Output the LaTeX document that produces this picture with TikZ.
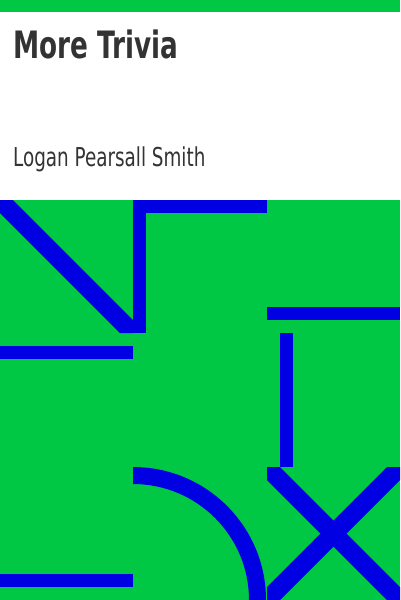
\documentclass[tikz,border=0pt]{standalone}
\usepackage{fontspec}
\setmainfont{DejaVu Sans Condensed}
\usepackage{xcolor}
\definecolor{covergreen}{RGB}{0,200,68}
\definecolor{coverblue}{RGB}{0,0,226}
\definecolor{covertext}{RGB}{51,51,51}
\tikzset{
	band/.style={fill=coverblue, draw=none},
	label/.style={anchor=base west, inner sep=0pt, text=covertext}
}
\begin{document}
\begin{tikzpicture}[x=1pt, y=-1pt]
			% Background
			\useasboundingbox (0,0) rectangle (400,600);
			\fill[covergreen] (0,0) rectangle (400,12);
			\fill[white] (0,12) rectangle (400,200);
			\fill[covergreen] (0,200) rectangle (400,600);

			% Title and author
			\node[label, font=\bfseries\fontsize{37.7}{37.7}\selectfont] (title) at (13,58.5) {\scalebox{0.775}[1]{More Trivia}};
			\node[label, font=\fontsize{26}{26}\selectfont] (author) at (13,166.7) {\scalebox{0.785}[1]{Logan Pearsall Smith}};

			% Upper cells
			\fill[band] (0,200) -- (13,200) -- (133,320) -- (133,333) -- (120,333) -- (0,213) -- cycle;
			\fill[band] (133,200) rectangle (146,333);
			\fill[band] (133,200) rectangle (267,213);
			\fill[band] (0,346) rectangle (133,359);
			\fill[band] (267,307) rectangle (400,320);
			\fill[band] (280,333) rectangle (293,467);

			% Lower cells
			\fill[band] (0,574) rectangle (133,587);
			\fill[band] (133,467) arc[start angle=-90, end angle=0, radius=133] -- (249,600) arc[start angle=0, end angle=-90, radius=116] -- cycle;
			\fill[band] (267,467) -- (280,467) -- (400,587) -- (400,600) -- (387,600) -- (267,480) -- cycle;
			\fill[band] (387,467) -- (400,467) -- (400,480) -- (280,600) -- (267,600) -- (267,587) -- cycle;
		\end{tikzpicture}
\end{document}
